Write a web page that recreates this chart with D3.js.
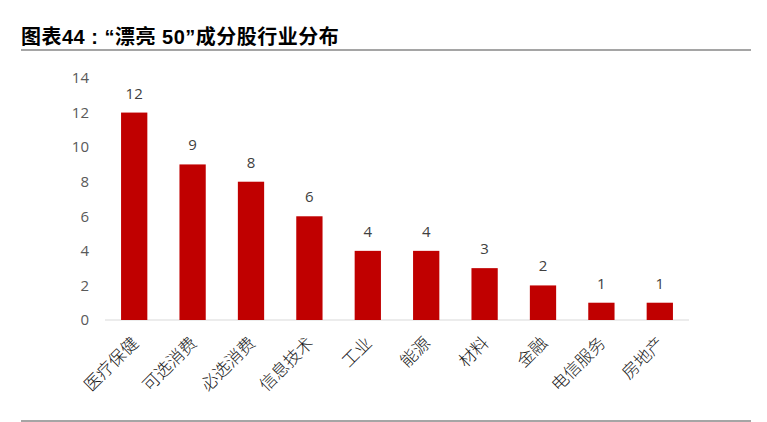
<!DOCTYPE html>
<html>
<head>
<meta charset="utf-8">
<script src="https://cdn.jsdelivr.net/npm/d3@7"></script>
<style>
  body { margin: 0; background: #fff; }
  svg { display: block; }
</style>
</head>
<body>
<div id="chart"></div>
<script>
// Data
const categories = ['医疗保健', '可选消费', '必选消费', '信息技术', '工业', '能源', '材料', '金融', '电信服务', '房地产'];
const counts = [12, 9, 8, 6, 4, 4, 3, 2, 1, 1];
const yTicks = [0, 2, 4, 6, 8, 10, 12, 14];
const titleText = '图表44 : “漂亮 50”成分股行业分布';

const W = 767, H = 422;

const svg = d3.select('#chart')
  .append('svg')
  .attr('width', W)
  .attr('height', H);

// Title and rules
svg.append('text')
  .attr('x', 21)
  .attr('y', 44)
  .attr('font-family', '"Liberation Sans", "Noto Sans CJK SC", sans-serif')
  .attr('font-weight', 'bold')
  .attr('font-size', 20)
  .attr('letter-spacing', 0.5)
  .attr('fill', '#000')
  .text(titleText);

svg.append('line')
  .attr('x1', 21).attr('x2', 751)
  .attr('y1', 50).attr('y2', 50)
  .attr('stroke', '#a5a5a5')
  .attr('stroke-width', 2);

svg.append('line')
  .attr('x1', 21).attr('x2', 751)
  .attr('y1', 421).attr('y2', 421)
  .attr('stroke', '#a5a5a5')
  .attr('stroke-width', 2);

// Scales
const x = d3.scaleBand()
  .domain(categories)
  .range([105, 689])
  .paddingInner(0.55)
  .paddingOuter(0.275);

const y = d3.scaleLinear()
  .domain([0, 14])
  .range([320, 78]);

// Y axis (labels only)
const yAxis = svg.append('g')
  .attr('transform', 'translate(89,0)')
  .call(d3.axisLeft(y).tickValues(yTicks).tickSize(0).tickPadding(0));
yAxis.select('.domain').remove();
yAxis.selectAll('text')
  .attr('font-family', '"Open Sans", "Liberation Sans", sans-serif')
  .attr('font-size', 15)
  .attr('fill', '#595959');

// Baseline
svg.append('line')
  .attr('x1', 105).attr('x2', 689)
  .attr('y1', y(0)).attr('y2', y(0))
  .attr('stroke', '#d9d9d9')
  .attr('stroke-width', 1);

// Bars
svg.append('g')
  .selectAll('rect')
  .data(counts)
  .join('rect')
  .attr('x', (d, i) => x(categories[i]))
  .attr('y', d => y(d))
  .attr('width', x.bandwidth())
  .attr('height', d => y(0) - y(d))
  .attr('fill', '#c00000');

// Value labels
svg.append('g')
  .selectAll('text')
  .data(counts)
  .join('text')
  .attr('x', (d, i) => x(categories[i]) + x.bandwidth() / 2)
  .attr('y', d => y(d) - 14)
  .attr('text-anchor', 'middle')
  .attr('font-family', '"Open Sans", "Liberation Sans", sans-serif')
  .attr('font-size', 15)
  .attr('fill', '#404040')
  .text(d => d);

// Category labels, rotated
svg.append('g')
  .selectAll('text')
  .data(categories)
  .join('text')
  .attr('transform', d => `translate(${x(d) + x.bandwidth() / 2 + 1},${y(0) + 20}) rotate(-45)`)
  .attr('text-anchor', 'end')
  .attr('dy', '0.35em')
  .attr('font-family', '"Noto Sans CJK SC", sans-serif')
  .attr('font-weight', 300)
  .attr('font-size', 17)
  .attr('fill', '#1a1a1a')
  .text(d => d);
</script>
</body>
</html>
